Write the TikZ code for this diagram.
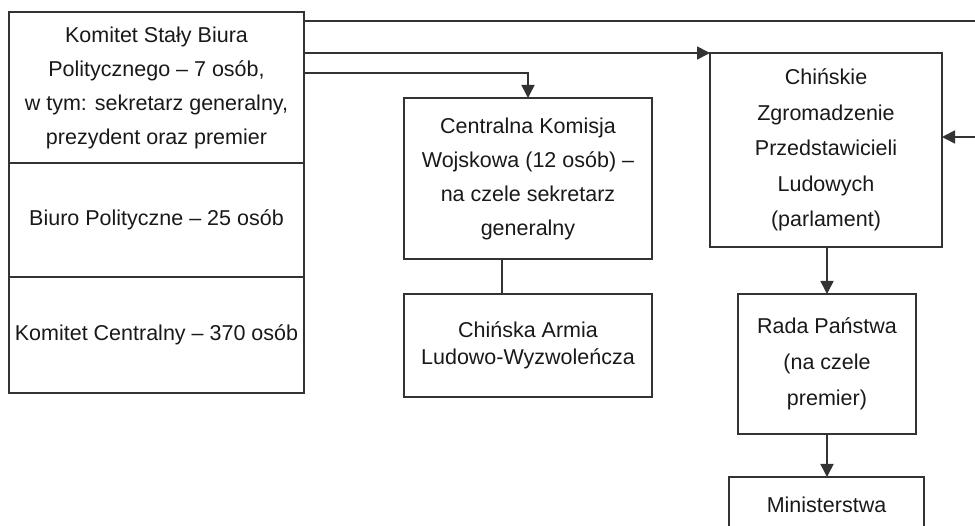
\documentclass[tikz,border=0pt]{standalone}
\usepackage{fontspec}
\setmainfont{Liberation Sans}
\usetikzlibrary{arrows.meta,positioning}
\newcommand\LineSkip{34}
\tikzset{
  box/.style={
    draw = black!80,
    line width = 1.6pt,
    inner sep = 0pt,
    outer sep = 0pt,
    align = center,
    text = black!90,
    font = \fontsize{21.5}{\LineSkip}\selectfont
  },
  link/.style={
    draw = black!80,
    line width = 1.6pt
  },
  arrow/.style={
    link,
    -{Triangle[length=13pt,width=13pt]}
  }
}

\begin{document}
\begin{tikzpicture}[x=1pt,y=-1pt]
    \useasboundingbox (0,0) rectangle (975,526);

    % party
    \node[box, minimum width=295, minimum height=151] (stalyKomitet) at (156.5,87.5)
      {Komitet Stały Biura\\Politycznego – 7 osób,\\w tym: sekretarz generalny,\\prezydent oraz premier};
    \node[box, minimum width=295, minimum height=114, below=0pt of stalyKomitet] (biuro)
      {Biuro Polityczne – 25 osób};
    \node[box, minimum width=295, minimum height=116, below=0pt of biuro] (komitetCentralny)
      {Komitet Centralny – 370 osób};

    % army
    \node[box, minimum width=248, minimum height=161] (komisja) at (528,178.5)
      {Centralna Komisja\\Wojskowa (12 osób) –\\na czele sekretarz\\generalny};
    \node[box, minimum width=248, minimum height=103, font=\fontsize{21.5}{27}\selectfont] (armia) at (528,345.5)
      {Chińska Armia\\Ludowo-Wyzwoleńcza};

    % state
    \node[box, minimum width=232, minimum height=194, font=\fontsize{21.5}{35.5}\selectfont] (zgromadzenie) at (826,150)
      {Chińskie\\Zgromadzenie\\Przedstawicieli\\Ludowych\\(parlament)};
    \node[box, minimum width=178, minimum height=140, font=\fontsize{21.5}{36}\selectfont] (rada) at (827,364)
      {Rada Państwa\\(na czele\\premier)};
    \node[box, minimum width=195, minimum height=56] (ministerstwa) at (826.5,505)
      {Ministerstwa};

    \coordinate (edgeTop) at (975,21);
    \coordinate (edgeMid) at (975,137);
    \coordinate (armiaLink) at (502,0);

    \draw[link] (stalyKomitet.east |- edgeTop) -- (edgeTop);
    \draw[arrow] (stalyKomitet.east |- zgromadzenie.north west) -- (zgromadzenie.north west);
    \draw[arrow] (stalyKomitet.east |- 0,73) -| (komisja.north);
    \draw[arrow] (edgeMid) -- (edgeMid -| zgromadzenie.east);
    \draw[link] (komisja.south -| armiaLink) -- (armia.north -| armiaLink);
    \draw[arrow] (zgromadzenie.south -| rada.north) -- (rada.north);
    \draw[arrow] (rada.south) -- (rada.south |- ministerstwa.north);
\end{tikzpicture}
\end{document}
